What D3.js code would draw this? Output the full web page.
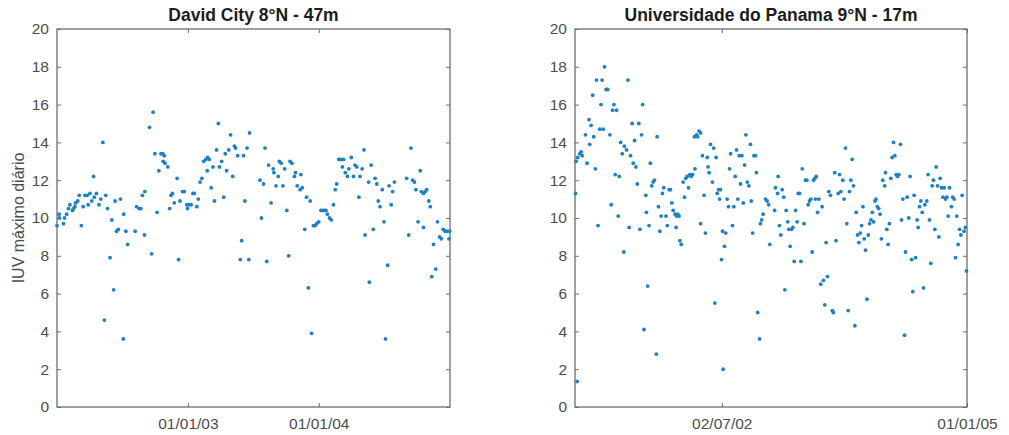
<!DOCTYPE html>
<html>
<head>
<meta charset="utf-8">
<script src="https://cdn.jsdelivr.net/npm/d3@7"></script>
<style>
  html, body { margin: 0; padding: 0; background: #fff; }
  svg { display: block; font-family: "Liberation Sans", Arial, sans-serif; }
</style>
</head>
<body>
<svg id="chart" width="1009" height="435"></svg>
<script>
// Daily maximum UV index, two stations. Days are counted from each station's start date.
const davidStart = "2002-01-01";
const davidEnd = "2005-01-01";
const davidDay = [
  0, 6, 7, 18, 21, 27, 32, 36, 43, 46,
  50, 52, 58, 62, 68, 73, 78, 84, 87, 92,
  97, 102, 104, 110, 117, 122, 128, 132, 136, 141,
  148, 153, 158, 162, 166, 171, 177, 185, 186, 192,
  197, 218, 222, 229, 234, 238, 244, 245, 258, 264,
  268, 273, 279, 284, 290, 295, 299, 296, 301, 309,
  314, 318, 322, 327, 335, 339, 343, 350, 355, 364,
  362, 368, 374, 379, 383, 390, 394, 399, 404, 409,
  415, 420, 425, 419, 430, 435, 439, 445, 450, 453,
  459, 465, 469, 473, 479, 484, 490, 495, 498, 504,
  511, 515, 520, 524, 530, 535, 537, 566, 570, 576,
  580, 585, 590, 597, 603, 605, 611, 617, 620, 625,
  630, 635, 641, 646, 650, 655, 662, 665, 670, 680,
  678, 684, 691, 696, 701, 706, 710, 715, 720, 724,
  730, 736, 741, 745, 750, 754, 760, 765, 771, 776,
  780, 786, 791, 799, 796, 804, 810, 814, 821, 827,
  831, 836, 842, 845, 851, 856, 859, 869, 871, 876,
  882, 887, 892, 896, 901, 907, 912, 916, 922, 926,
  932, 936, 941, 975, 981, 987, 992, 997, 1001, 1007,
  1013, 1016, 1022, 1027, 1031, 1022, 1037, 1041, 1045, 1050,
  1056, 1061, 1067, 1072, 1077, 1082, 1087, 1093, 1095
];
const davidUV = [
  9.6, 10.2, 10.0, 9.7, 10.0, 10.2, 10.5, 10.7, 10.4, 10.5,
  10.6, 10.8, 10.9, 11.2, 9.6, 10.6, 11.2, 11.2, 10.7, 11.3,
  10.9, 12.2, 11.1, 11.3, 10.7, 11.0, 14.0, 4.6, 11.2, 10.5,
  7.9, 9.9, 6.2, 10.9, 9.3, 9.4, 11.0, 3.6, 10.2, 9.3,
  8.6, 9.3, 10.6, 10.5, 10.5, 11.2, 9.1, 11.4, 14.8, 8.1,
  15.6, 13.4, 10.3, 12.5, 13.4, 13.4, 13.3, 13.0, 12.9, 12.7,
  10.5, 11.2, 11.3, 10.8, 12.1, 7.8, 10.9, 11.4, 11.4, 10.5,
  10.7, 10.7, 10.7, 11.3, 11.3, 10.6, 11.0, 11.9, 12.1, 13.0,
  13.1, 13.2, 13.1, 12.5, 11.6, 12.7, 10.9, 13.6, 15.0, 12.7,
  13.0, 11.1, 13.4, 12.5, 13.6, 14.4, 12.2, 13.8, 13.7, 13.3,
  7.8, 8.8, 13.3, 10.9, 13.7, 7.8, 14.5, 12.0, 10.0, 11.8,
  13.7, 7.7, 12.8, 10.8, 12.6, 12.4, 11.7, 12.2, 13.0, 12.9,
  11.7, 12.6, 10.4, 8.0, 13.0, 12.9, 12.2, 12.4, 11.7, 12.3,
  11.5, 11.6, 9.4, 11.1, 6.3, 10.9, 3.9, 9.6, 9.6, 9.7,
  9.8, 10.4, 10.4, 10.4, 10.4, 10.2, 10.0, 9.9, 10.7, 11.5,
  11.8, 13.1, 13.1, 13.1, 12.7, 12.4, 12.2, 12.6, 13.2, 12.2,
  12.8, 12.7, 11.1, 12.2, 12.6, 13.6, 9.1, 11.9, 6.6, 12.8,
  9.4, 12.1, 11.8, 10.9, 10.6, 11.5, 9.8, 3.6, 7.5, 11.7,
  10.7, 11.4, 11.9, 12.1, 9.1, 13.7, 12.0, 11.9, 11.5, 9.8,
  12.5, 11.4, 11.3, 11.4, 11.5, 9.5, 10.9, 10.6, 6.9, 8.6,
  7.3, 9.8, 9.0, 8.9, 9.4, 9.3, 9.3, 8.9, 9.3
];

const panamaStart = "2001-01-01";
const panamaEnd = "2005-01-01";
const panamaDay = [
  8, 4, 2, 10, 18, 23, 27, 39, 45, 52,
  55, 60, 66, 70, 76, 80, 86, 92, 97, 101,
  105, 110, 116, 122, 130, 135, 140, 145, 150, 155,
  161, 165, 170, 176, 182, 184, 192, 197, 202, 207,
  213, 217, 222, 227, 232, 238, 242, 248, 252, 257,
  264, 266, 271, 276, 281, 286, 291, 296, 303, 306,
  311, 316, 321, 326, 331, 339, 344, 351, 356, 361,
  366, 373, 378, 383, 388, 377, 391, 396, 403, 408,
  413, 418, 423, 428, 433, 438, 447, 445, 453, 462,
  468, 457, 468, 475, 481, 486, 493, 496, 500, 505,
  512, 517, 521, 526, 530, 535, 539, 542, 546, 550,
  552, 557, 562, 567, 572, 576, 580, 587, 592, 597,
  602, 607, 612, 617, 622, 627, 632, 637, 642, 648,
  654, 657, 662, 667, 673, 676, 681, 688, 691, 696,
  701, 710, 716, 722, 726, 744, 747, 755, 757, 762,
  767, 772, 778, 782, 787, 793, 797, 802, 807, 812,
  817, 822, 828, 832, 837, 842, 847, 854, 859, 864,
  869, 874, 879, 884, 889, 894, 899, 896, 904, 909,
  916, 921, 926, 931, 936, 941, 946, 952, 959, 963,
  968, 973, 981, 986, 991, 998, 1003, 1008, 1013, 1018,
  1023, 1028, 1033, 1038, 1043, 1048, 1053, 1058, 1063, 1068,
  1073, 1078, 1083, 1088, 1093, 1098, 1103, 1108, 1113, 1118,
  1122, 1127, 1132, 1137, 1142, 1147, 1154, 1157, 1162, 1167,
  1172, 1177, 1182, 1187, 1192, 1197, 1202, 1207, 1213, 1217,
  1222, 1228, 1232, 1238, 1244, 1249, 1254, 1259, 1264, 1269,
  1275, 1279, 1284, 1289, 1294, 1299, 1304, 1311, 1316, 1321,
  1326, 1331, 1336, 1341, 1346, 1351, 1356, 1361, 1366, 1371,
  1376, 1381, 1386, 1391, 1396, 1403, 1408, 1413, 1418, 1423,
  1428, 1433, 1438, 1443, 1450, 1455, 1459
];
const panamaUV = [
  1.35, 13.0, 11.3, 13.2, 13.4, 13.5, 13.3, 14.4, 12.9, 15.2,
  13.9, 14.9, 16.5, 14.3, 12.6, 17.3, 9.6, 14.7, 16.0, 17.3,
  14.7, 18.0, 16.8, 16.8, 14.4, 10.7, 15.7, 16.0, 12.3, 15.7,
  10.1, 12.2, 14.0, 13.4, 8.2, 13.8, 13.6, 17.3, 9.5, 13.3,
  15.0, 12.9, 14.1, 12.7, 11.8, 15.0, 9.4, 14.4, 16.0, 4.1,
  11.2, 10.3, 6.4, 9.6, 12.9, 11.7, 11.9, 12.0, 2.8, 14.3,
  10.6, 9.3, 10.1, 11.3, 11.6, 10.1, 9.6, 11.5, 11.5, 10.8,
  10.4, 10.2, 10.1, 10.2, 10.1, 9.5, 8.8, 8.6, 11.9, 11.1,
  12.1, 12.2, 11.6, 12.3, 12.2, 12.3, 12.6, 14.3, 14.4, 14.6,
  14.5, 14.3, 9.7, 13.3, 11.2, 9.2, 13.2, 12.7, 12.4, 13.9,
  11.9, 13.7, 5.5, 13.2, 11.3, 11.5, 11.0, 11.5, 7.8, 9.3,
  2.0, 8.5, 9.2, 11.0, 10.6, 12.6, 13.4, 9.6, 10.6, 12.2,
  13.6, 11.0, 13.3, 11.8, 13.3, 10.8, 12.8, 14.4, 11.9, 11.7,
  13.9, 10.9, 9.2, 13.3, 13.3, 12.4, 5.0, 3.6, 9.7, 9.9,
  10.2, 11.0, 10.9, 10.7, 8.6, 10.4, 11.6, 11.3, 12.2, 9.6,
  9.1, 11.5, 11.1, 6.2, 10.4, 9.8, 9.4, 8.5, 9.4, 9.5,
  7.7, 10.4, 9.8, 11.3, 11.3, 7.7, 12.6, 9.7, 12.0, 12.0,
  10.7, 10.9, 11.0, 8.2, 12.0, 12.1, 12.2, 11.0, 10.3, 11.0,
  6.5, 10.6, 6.7, 5.4, 8.7, 6.9, 11.4, 11.2, 5.1, 5.0,
  12.4, 8.8, 11.3, 12.3, 11.4, 12.0, 11.0, 13.7, 9.7, 5.1,
  11.4, 12.0, 13.1, 11.7, 4.3, 10.3, 9.1, 8.7, 9.2, 9.6,
  10.6, 8.9, 8.3, 5.7, 9.1, 9.7, 9.9, 10.3, 9.8, 10.9,
  11.0, 10.6, 10.5, 10.2, 8.9, 12.0, 11.7, 12.4, 9.4, 8.6,
  9.7, 12.1, 13.2, 14.0, 13.3, 12.3, 12.2, 12.3, 13.9, 9.9,
  11.0, 3.8, 8.2, 11.1, 10.0, 12.2, 7.8, 6.1, 11.2, 7.9,
  9.9, 9.5, 10.6, 10.9, 10.3, 6.3, 10.7, 10.9, 12.3, 9.9,
  7.6, 11.7, 12.0, 9.4, 12.7, 11.7, 9.0, 12.1, 11.6, 11.1,
  11.6, 11.0, 11.1, 10.1, 11.6, 10.6, 11.1, 11.0, 7.9, 10.1,
  8.6, 9.4, 9.1, 11.2, 9.3, 9.5, 7.2
];

const yTicks = [0, 2, 4, 6, 8, 10, 12, 14, 16, 18, 20];
const davidTicks = ["2003-01-01", "2004-01-01"];
const panamaTicks = ["2002-07-02", "2005-01-01"];
const davidTitle = "David City 8°N - 47m";
const panamaTitle = "Universidade do Panama 9°N - 17m";
const yLabel = "IUV máximo diário";

const parse = d3.utcParse("%Y-%m-%d");
const fmt = d3.utcFormat("%d/%m/%y");
const svg = d3.select("#chart");

const plotTop = 29, plotBottom = 407;
const axisColor = "#6e6e6e";
const textColor = "#4d4d4d";
const dotColor = "#1f80c2";

function panel(opts) {
  const start = parse(opts.start);
  const x = d3.scaleUtc().domain([start, parse(opts.end)]).range([opts.left, opts.right]);
  const y = d3.scaleLinear().domain([0, 20]).range([plotBottom, plotTop]);
  const g = svg.append("g");
  const ticks = opts.ticks.map(parse);

  // Plot frame
  g.append("rect")
    .attr("x", opts.left).attr("y", plotTop)
    .attr("width", opts.right - opts.left).attr("height", plotBottom - plotTop)
    .attr("fill", "none").attr("stroke", axisColor).attr("stroke-width", 1.3);

  const styleAxis = sel => {
    sel.select(".domain").remove();
    sel.selectAll(".tick line").attr("stroke", axisColor).attr("stroke-width", 1);
    sel.selectAll(".tick text").attr("fill", textColor)
      .style("font-size", "15.5px").style("font-family", '"Liberation Sans", Arial, sans-serif');
  };

  g.append("g").attr("transform", `translate(0,${plotBottom})`)
    .call(d3.axisBottom(x).tickValues(ticks).tickFormat(fmt).tickSize(-4).tickPadding(11))
    .call(styleAxis);
  g.append("g").attr("transform", `translate(0,${plotTop})`)
    .call(d3.axisTop(x).tickValues(ticks).tickFormat("").tickSize(-4))
    .call(styleAxis);
  g.append("g").attr("transform", `translate(${opts.left},0)`)
    .call(d3.axisLeft(y).tickValues(yTicks).tickSize(-4).tickPadding(8))
    .call(styleAxis);
  g.append("g").attr("transform", `translate(${opts.right},0)`)
    .call(d3.axisRight(y).tickValues(yTicks).tickFormat("").tickSize(-4))
    .call(styleAxis);

  // Daily maxima
  const pts = opts.days.map((d, i) => ({ date: d3.utcDay.offset(start, d), v: opts.uv[i] }));
  g.append("g").selectAll("circle").data(pts).join("circle")
    .attr("cx", d => x(d.date)).attr("cy", d => y(d.v))
    .attr("r", 1.9).attr("fill", dotColor);

  g.append("text")
    .attr("x", (opts.left + opts.right) / 2).attr("y", 21)
    .attr("text-anchor", "middle")
    .attr("fill", "#1c1c1c")
    .style("font-size", "17.5px").style("font-weight", "bold")
    .text(opts.title);
}

panel({ left: 57, right: 450, start: davidStart, end: davidEnd, ticks: davidTicks,
        days: davidDay, uv: davidUV, title: davidTitle });
panel({ left: 575, right: 967, start: panamaStart, end: panamaEnd, ticks: panamaTicks,
        days: panamaDay, uv: panamaUV, title: panamaTitle });

svg.append("text")
  .attr("transform", `translate(18,${(plotTop + plotBottom) / 2}) rotate(-90)`)
  .attr("text-anchor", "middle").attr("dominant-baseline", "central")
  .attr("fill", textColor).style("font-size", "16px")
  .text(yLabel);
</script>
</body>
</html>
